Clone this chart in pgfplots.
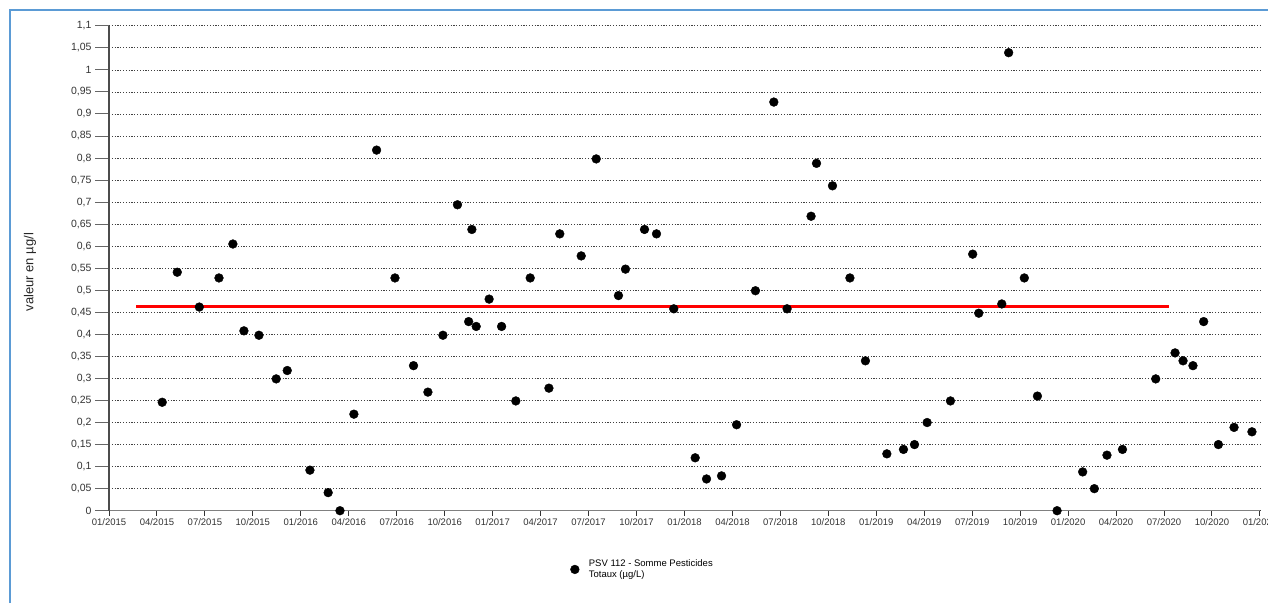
\documentclass[border=0pt]{standalone}
\usepackage{pgfplots}
\pgfplotsset{compat=1.18}
\usepackage{fontspec}
\setmainfont{Liberation Sans}
\definecolor{frameblue}{HTML}{5B9BD5}
\begin{document}
\begin{tikzpicture}[x=1pt,y=1pt]
\useasboundingbox (0,0) rectangle (1268,603);
\draw[frameblue, line width=2pt] (10,0) -- (10,593) -- (1268,593);
\pgfplotsset{
  common/.style={
    at={(109pt,92.3pt)}, anchor=south west,
    scale only axis, width=1151pt, height=484.9pt,
    xmin=0, xmax=72, ymin=0, ymax=1.1,
    ytick={0,0.05,0.1,0.15,0.2,0.25,0.3,0.35,0.4,0.45,0.5,0.55,0.6,0.65,0.7,0.75,0.8,0.85,0.9,0.95,1,1.05,1.1},
    tick align=outside,
  }
}
% overlay axis: long y ticks and their labels
\begin{axis}[common,
  axis x line=none, axis y line*=left,
  y axis line style={draw=none},
  yticklabels={0,{0,05},{0,1},{0,15},{0,2},{0,25},{0,3},{0,35},{0,4},{0,45},{0,5},{0,55},{0,6},{0,65},{0,7},{0,75},{0,8},{0,85},{0,9},{0,95},1,{1,05},{1,1}},
  major tick length=14pt,
  ytick style={draw=black!60, line width=1pt},
  y tick label style={font=\fontsize{10.5}{12}\selectfont, text=black!80},
]
\end{axis}
\begin{axis}[common,
  clip=false,
  axis x line*=bottom, axis y line*=left,
  x axis line style={draw=black!50, line width=1.2pt, -},
  y axis line style={draw=black!70, line width=1.5pt, -},
  xtick={0,3,...,72},
  xticklabels={01/2015,04/2015,07/2015,10/2015,01/2016,04/2016,07/2016,10/2016,01/2017,04/2017,07/2017,10/2017,01/2018,04/2018,07/2018,10/2018,01/2019,04/2019,07/2019,10/2019,01/2020,04/2020,07/2020,10/2020,01/2021},
  yticklabels={},
  xtick style={draw=black!80, line width=1pt},
  ytick style={draw=none},
  x tick label style={font=\fontsize{9.5}{11}\selectfont, text=black!80, yshift=1pt},
  major tick length=5pt,
  ymajorgrids,
  grid style={black!75, line width=0.7pt, dash pattern=on 1.2pt off 1.6pt},
  ylabel={valeur en µg/l},
  ylabel style={at={(axis description cs:-0.0686,0.492)}, anchor=center, font=\fontsize{13}{15}\selectfont, text=black!85},
  legend image code/.code={\path[draw=none,fill=none] (-4.4pt,-4.4pt) rectangle (12pt,4.4pt);\fill[black] (0pt,0pt) circle (4.4pt);},
  legend style={at={(axis description cs:0.398,-0.093)}, anchor=north west, draw=none, fill=none,
    font=\fontsize{9.5}{10.5}\selectfont, cells={align=left, anchor=west}},
  legend cell align=left,
]
\addplot[forget plot, red, line width=2.6pt] coordinates {(1.69,0.4626) (66.31,0.4626)};
\addplot[only marks, mark=*, mark size=4.4pt, black] coordinates {
(3.33,0.246) (4.27,0.541) (5.65,0.462) (6.88,0.528) (7.75,0.605) (8.44,0.408) (9.38,0.398)
(10.46,0.299) (11.15,0.318) (12.57,0.092) (13.71,0.041) (14.45,0.0) (15.32,0.219) (16.74,0.818)
(17.89,0.528) (19.05,0.329) (19.95,0.269) (20.89,0.398) (21.80,0.694) (22.50,0.429) (22.70,0.638)
(22.97,0.418) (23.78,0.480) (24.56,0.418) (25.45,0.249) (26.35,0.528) (27.52,0.278) (28.20,0.628)
(29.54,0.578) (30.48,0.798) (31.87,0.488) (32.31,0.548) (33.50,0.638) (34.25,0.628) (35.33,0.458)
(36.67,0.120) (37.38,0.072) (38.32,0.079) (39.26,0.195) (40.44,0.499) (41.59,0.927) (42.42,0.458)
(43.92,0.668) (44.26,0.788) (45.26,0.737) (46.35,0.528) (47.32,0.340) (48.66,0.129) (49.70,0.139)
(50.39,0.150) (51.18,0.200) (52.64,0.249) (54.03,0.582) (54.41,0.448) (55.85,0.469) (56.28,1.039)
(57.26,0.528) (58.08,0.260) (59.31,0.0) (60.91,0.088) (61.64,0.050) (62.43,0.126) (63.40,0.139)
(65.48,0.299) (66.69,0.358) (67.19,0.340) (67.81,0.329) (68.48,0.429) (69.40,0.150) (70.38,0.189)
(71.50,0.179)
};
\addlegendentry{PSV 112 - Somme Pesticides\\Totaux (µg/L)}
\end{axis}
\end{tikzpicture}
\end{document}
